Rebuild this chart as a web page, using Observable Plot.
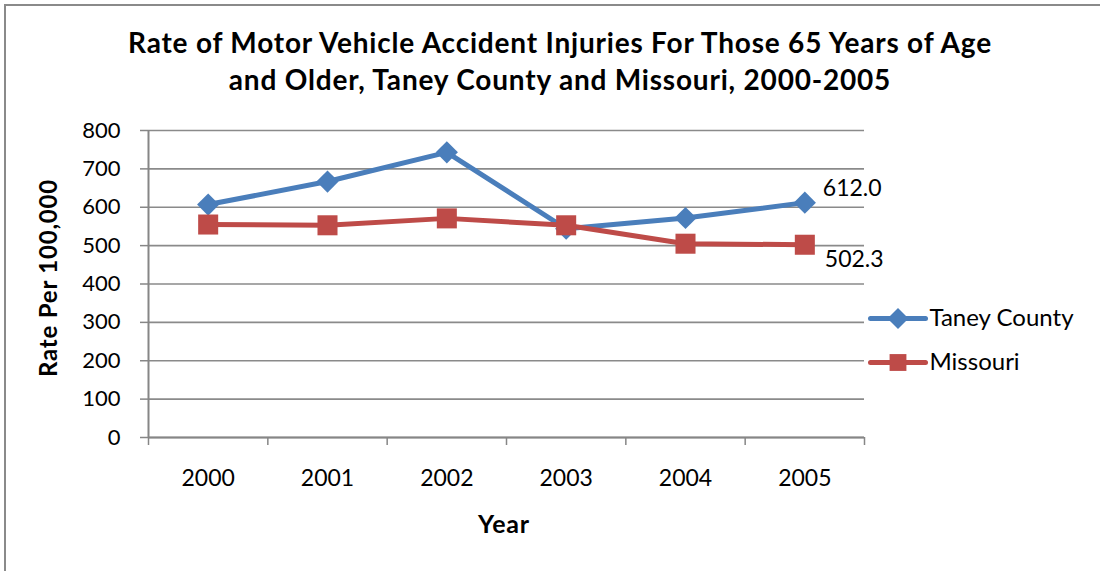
<!DOCTYPE html>
<html>
<head>
<meta charset="utf-8">
<script src="https://cdn.jsdelivr.net/npm/d3@7"></script>
<script src="https://cdn.jsdelivr.net/npm/@observablehq/plot@0.6"></script>
<style>
  html, body { margin: 0; padding: 0; background: #fff; }
  #wrap { position: relative; width: 1100px; height: 571px; overflow: hidden; font-family: Lato, "Open Sans", sans-serif; color: #000; }
  #frame { position: absolute; left: 4px; top: 4px; width: 1110px; height: 620px; border-top: 2px solid #8a8a8a; border-left: 2px solid #8a8a8a; }
  #title { position: absolute; left: 20px; top: 24px; width: 1080px; text-align: center; font-weight: bold; font-size: 28px; letter-spacing: 0.8px; line-height: 37px; }
  #ytitle { position: absolute; left: 47px; top: 278px; transform: translate(-50%, -50%) rotate(-90deg); white-space: nowrap; font-weight: bold; font-size: 24px; letter-spacing: 0.8px; }
  #xtitle { position: absolute; left: 504px; top: 523px; transform: translate(-50%, -50%); white-space: nowrap; font-weight: bold; font-size: 25px; letter-spacing: 0.8px; }
  #chart { position: absolute; left: 0; top: 0; }
  #legend { position: absolute; left: 860px; top: 290px; }
</style>
</head>
<body>
<div id="wrap">
  <div id="frame"></div>
  <div id="chart"></div>
  <div id="title">Rate of Motor Vehicle Accident Injuries For Those 65 Years of Age<br>and Older, Taney County and Missouri, 2000-2005</div>
  <div id="ytitle">Rate Per 100,000</div>
  <div id="xtitle">Year</div>
  <div id="legend"></div>
</div>
<script>
const years = [2000, 2001, 2002, 2003, 2004, 2005];
const taney = [607, 667, 743, 544, 572, 612.0];
const missouri = [555, 553, 571, 553, 505, 502.3];
const yTicks = [0, 100, 200, 300, 400, 500, 600, 700, 800];
const xBoundaries = [1999.5, 2000.5, 2001.5, 2002.5, 2003.5, 2004.5, 2005.5];
const seriesNames = ["Taney County", "Missouri"];
const seriesColors = ["#4A7EBB", "#BE4B48"];
const seriesSymbols = ["diamond2", "square"];
const seriesR = [10, 11.3];

const taneyData = years.map((year, i) => ({year, value: taney[i], series: seriesNames[0]}));
const missouriData = years.map((year, i) => ({year, value: missouri[i], series: seriesNames[1]}));
const lastTaney = [taneyData[taneyData.length - 1]];
const lastMissouri = [missouriData[missouriData.length - 1]];
const axisGray = "#868686";

const chart = Plot.plot({
  width: 1100,
  height: 571,
  marginLeft: 148,
  marginRight: 236,
  marginTop: 130,
  marginBottom: 134,
  x: {domain: [1999.5, 2005.5]},
  y: {domain: [0, 800]},
  style: {fontFamily: "Lato, 'Open Sans', sans-serif", fontSize: "22px", color: "#000", background: "transparent", overflow: "visible"},
  marks: [
    Plot.gridY(yTicks, {stroke: "#8a8a8a", strokeOpacity: 1, strokeWidth: 1.6}),
    Plot.axisY(yTicks, {tickSize: 8, tickPadding: 20, stroke: axisGray, strokeWidth: 1.5, fill: "#000", fontSize: 22, label: null}),
    Plot.axisX(xBoundaries, {tickSize: 8, tickFormat: () => "", stroke: axisGray, strokeWidth: 1.5, label: null}),
    Plot.axisX(years, {tickSize: 0, tickPadding: 32, tickFormat: d => String(d), fill: "#000", fontSize: 23, label: null}),
    Plot.ruleY([0], {stroke: axisGray, strokeWidth: 2}),
    Plot.ruleX([xBoundaries[0]], {y1: 0, y2: 800, stroke: axisGray, strokeWidth: 2}),
    Plot.line(taneyData, {x: "year", y: "value", stroke: seriesColors[0], strokeWidth: 5}),
    Plot.dot(taneyData, {x: "year", y: "value", symbol: seriesSymbols[0], r: seriesR[0], fill: seriesColors[0], stroke: null}),
    Plot.line(missouriData, {x: "year", y: "value", stroke: seriesColors[1], strokeWidth: 5}),
    Plot.dot(missouriData, {x: "year", y: "value", symbol: seriesSymbols[1], r: seriesR[1], fill: seriesColors[1], stroke: null}),
    Plot.text(lastTaney, {x: "year", y: "value", text: d => d.value.toFixed(1), dx: 18, dy: -14, textAnchor: "start", fill: "#000", fontSize: 23}),
    Plot.text(lastMissouri, {x: "year", y: "value", text: d => d.value.toFixed(1), dx: 20, dy: 15, textAnchor: "start", fill: "#000", fontSize: 23})
  ]
});
document.getElementById("chart").append(chart);

const legendLines = seriesNames.flatMap((s) => [{s, x: 0}, {s, x: 1}]);
const legend = Plot.plot({
  width: 240,
  height: 100,
  marginLeft: 10,
  marginRight: 175,
  marginTop: 28,
  marginBottom: 28,
  x: {domain: [0, 1], axis: null},
  y: {type: "point", padding: 0, domain: seriesNames, axis: null},
  color: {domain: seriesNames, range: seriesColors},
  symbol: {domain: seriesNames, range: seriesSymbols},
  style: {fontFamily: "Lato, 'Open Sans', sans-serif", fontSize: "24px", color: "#000", background: "transparent", overflow: "visible"},
  marks: [
    Plot.line(legendLines, {x: "x", y: "s", z: "s", stroke: "s", strokeWidth: 5}),
    Plot.dot(seriesNames, {x: () => 0.5, y: d => d, symbol: d => d, fill: d => d, r: 9.5, stroke: null}),
    Plot.text(seriesNames, {x: () => 1, y: d => d, text: d => d, dx: 4, textAnchor: "start", fill: "#000", fontSize: 24})
  ]
});
document.getElementById("legend").append(legend);
</script>
</body>
</html>
